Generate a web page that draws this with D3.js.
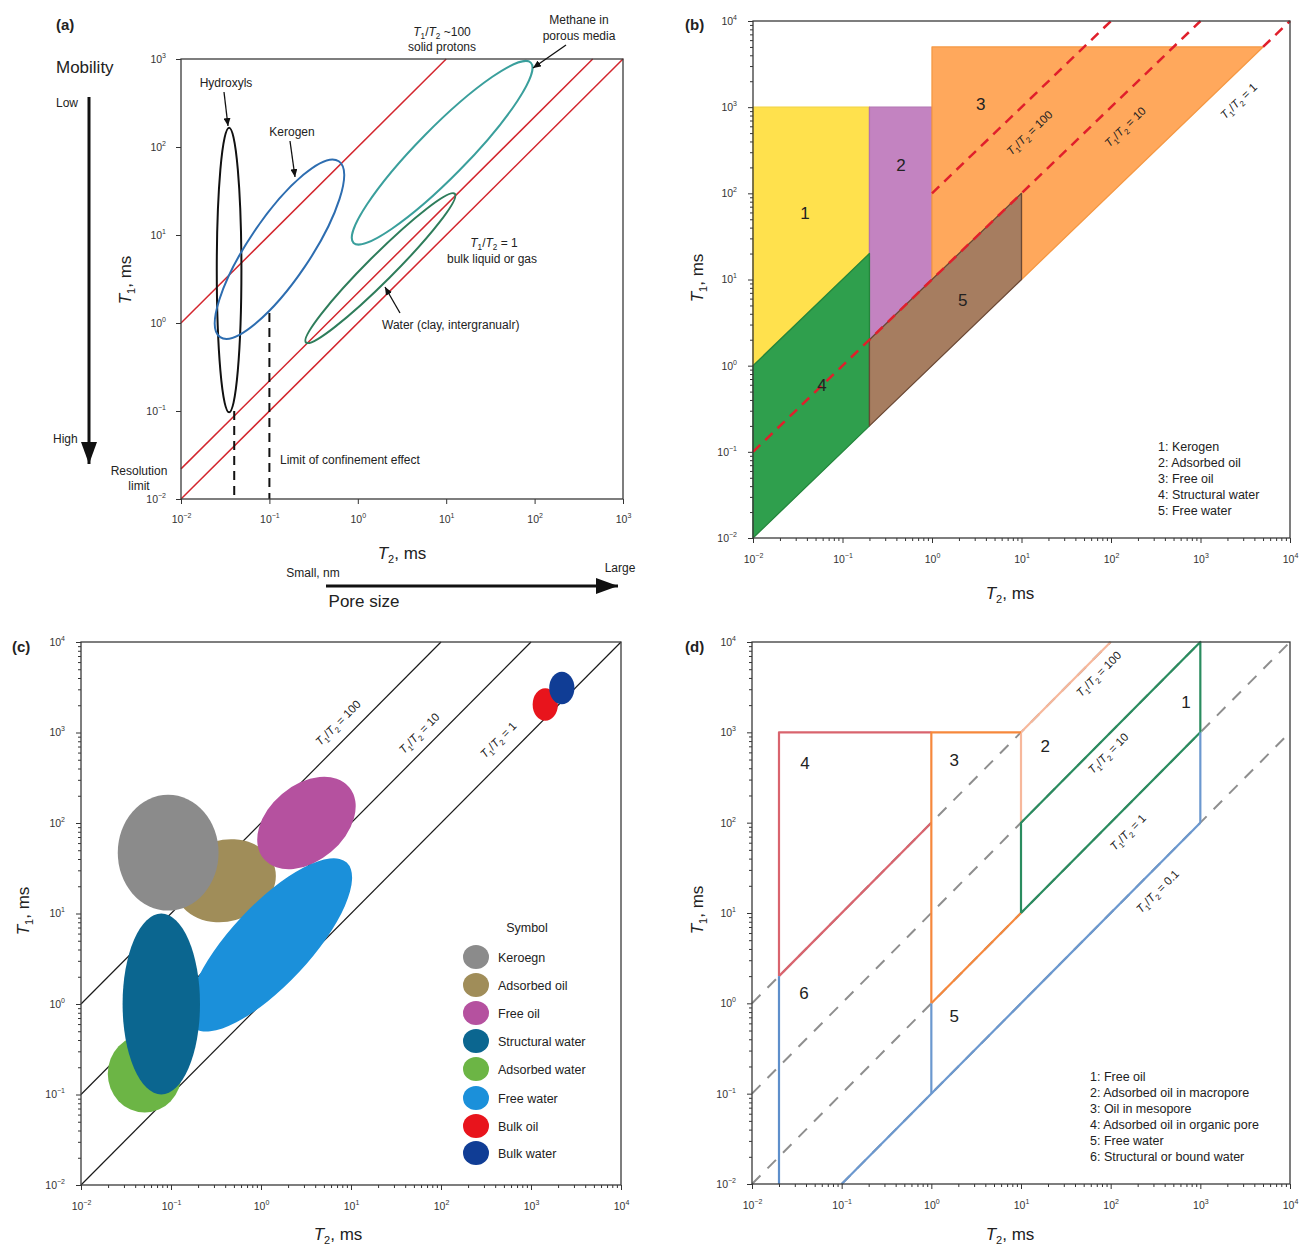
<!DOCTYPE html>
<html>
<head>
<meta charset="utf-8">
<script src="https://cdn.jsdelivr.net/npm/d3@7"></script>
<style>
  body { margin: 0; background: #fff; }
  svg text { font-family: "Liberation Sans", Arial, sans-serif; }
</style>
</head>
<body>
<svg id="fig" width="1304" height="1246"></svg>
<script>
// ---------- data ----------
// (a) mobility map
var aTicks = [1e-2, 1e-1, 1e0, 1e1, 1e2, 1e3]
var aRatios = [100, 2.2, 1]
var aShapes = [
  {name: 'Hydroxyls', t2: 0.035, t1: 4.0, a: 1.61, b: 0.14, angle: 90},
  {name: 'Kerogen', t2: 0.13, t1: 6.9, a: 1.2, b: 0.35, angle: 56},
  {name: 'Methane in porous media', t2: 9.0, t1: 86, a: 1.43, b: 0.28, angle: 45.5},
  {name: 'Water (clay, intergranualr)', t2: 1.8, t1: 4.2, a: 1.19, b: 0.15, angle: 45}
]
var aShapeColors = ['#111111', '#2d6db0', '#3a9f9c', '#2e7d5b']
var aLimits = [{t2: 0.04, from: 0.01, to: 0.1}, {t2: 0.1, from: 0.01, to: 1.3}]

// (b) fluid zones
var bTicks = [1e-2, 1e-1, 1e0, 1e1, 1e2, 1e3, 1e4]
var bNames = ['Kerogen', 'Adsorbed oil', 'Free oil', 'Structural water', 'Free water']
var bPolys = [
  [[0.01, 1000], [0.2, 1000], [0.2, 20], [0.01, 1]],
  [[0.2, 1000], [1, 1000], [1, 10], [0.2, 2]],
  [[1, 5000], [5000, 5000], [10, 10], [10, 100], [1, 10]],
  [[0.01, 1], [0.2, 20], [0.2, 0.2], [0.01, 0.01]],
  [[0.2, 2], [10, 100], [10, 10], [0.2, 0.2]]
]
var bLabelAt = [[0.038, 59], [0.45, 215], [3.5, 1100], [0.059, 0.6], [2.2, 5.8]]
var bDashed = [{ratio: 100, from: 1, to: 100}, {ratio: 10, from: 0.01, to: 1000}, {ratio: 1, from: 5000, to: 10000}]
var bRatioLabels = [{ratio: 100, t2: 8, off: 24}, {ratio: 10, t2: 94, off: 24}, {ratio: 1, t2: 1800, off: 22}]

// (c) symbols
var cTicks = bTicks
var cRatios = [100, 10, 1]
var cNames = ['Keroegn', 'Adsorbed oil', 'Free oil', 'Structural water', 'Adsorbed water', 'Free water', 'Bulk oil', 'Bulk water']
var cShapes = [
  {t2: 0.093, t1: 47, a: 0.56, b: 0.64, angle: 0},
  {t2: 0.4, t1: 23, a: 0.57, b: 0.45, angle: 15},
  {t2: 3.2, t1: 100, a: 0.62, b: 0.42, angle: 40},
  {t2: 0.078, t1: 1.0, a: 0.43, b: 1.0, angle: 0},
  {t2: 0.051, t1: 0.17, a: 0.41, b: 0.43, angle: 0},
  {t2: 1.26, t1: 4.5, a: 1.25, b: 0.44, angle: 47},
  {t2: 1440, t1: 2040, a: 0.14, b: 0.18, angle: 0},
  {t2: 2200, t1: 3100, a: 0.14, b: 0.18, angle: 0}
]
var cOrder = [1, 0, 2, 5, 4, 3, 6, 7]
var cRatioLabels = [{ratio: 100, t2: 9.6, off: -16}, {ratio: 10, t2: 75, off: -15}, {ratio: 1, t2: 600, off: -18}]

// (d) zone outlines
var dTicks = bTicks
var dRatios = [100, 10, 1, 0.1]
var dNames = ['Free oil', 'Adsorbed oil in macropore', 'Oil in mesopore', 'Adsorbed oil in organic pore', 'Free water', 'Structural or bound water']
var dEdges = [
  {region: 4, pts: [[0.02, 2], [0.02, 1000], [1, 1000]]},
  {region: 4, pts: [[0.02, 2], [1, 100]]},
  {region: 2, pts: [[10, 100], [10, 1000], [100, 10000]]},
  {region: 3, pts: [[1, 1], [1, 1000], [10, 1000]]},
  {region: 3, pts: [[1, 1], [10, 10]]},
  {region: 1, pts: [[10, 10], [10, 100], [1000, 10000], [1000, 1000], [10, 10]]},
  {region: 5, pts: [[1, 0.1], [1, 1]]},
  {region: 5, pts: [[1000, 100], [1000, 1000]]},
  {region: 5, pts: [[0.1, 0.01], [1000, 100]]},
  {region: 6, pts: [[0.02, 0.01], [0.02, 2]]}
]
var dLabelAt = [[690, 2180], [18.6, 700], [1.8, 490], [0.039, 460], [1.8, 0.72], [0.038, 1.3]]
var dRatioLabels = [{ratio: 100, t2: 57, off: 14}, {ratio: 10, t2: 74, off: 13}, {ratio: 1, t2: 110, off: 19}, {ratio: 0.1, t2: 240, off: 18}]

// ---------- styles ----------
var bFill = ['#ffe14d', '#c383c1', '#ffa85c', '#2f9f4d', '#a67d60']
var bEdge = ['#f3d43c', '#b272b2', '#f59843', '#23863c', '#6b4834']
var cColors = ['#8b8b8b', '#a08d59', '#b5519f', '#0b6690', '#6cb545', '#1b90da', '#e8141c', '#103d95']
var dColors = {1: '#2a8c5f', 2: '#f7b89c', 3: '#f6883c', 4: '#d9646e', 5: '#6b98cf', 6: '#5e8fcb'}

var svg = d3.select('#fig')
var defs = svg.append('defs')

function marker(id, w, h) {
  defs.append('marker').attr('id', id)
    .attr('viewBox', '0 0 10 10').attr('refX', 10).attr('refY', 5)
    .attr('markerUnits', 'userSpaceOnUse')
    .attr('markerWidth', w).attr('markerHeight', h)
    .attr('preserveAspectRatio', 'none')
    .attr('orient', 'auto')
    .append('path').attr('d', 'M0,0L10,5L0,10z').attr('fill', '#111')
}
marker('tip', 8, 7)
marker('big', 22, 16)

// ---------- helpers ----------
function scales(box, lo, hi) {
  let x = d3.scaleLog().domain([lo, hi]).range([box.x0, box.x1])
  let y = d3.scaleLog().domain([lo, hi]).range([box.y1, box.y0])
  return [x, y]
}

function expLabels(a) {
  a.selectAll('.tick text').each(function(d) {
    let e = Math.round(Math.log10(d))
    let t = d3.select(this).text(null)
    t.append('tspan').text('10')
    t.append('tspan').attr('font-size', 7).attr('dy', -5).text(e < 0 ? '\u2212' + (-e) : e)
  })
}

function axes(g, x, y, ticks, minor, padX, padY) {
  let minorVals = []
  if (minor) ticks.slice(0, -1).forEach(d => { for (let k = 2; k < 10; k++) minorVals.push(d * k) })

  let bx = g.append('g').attr('transform', 'translate(0,' + y.range()[0] + ')')
  let ly = g.append('g').attr('transform', 'translate(' + x.range()[0] + ',0)')
  if (minor) {
    bx.append('g').call(d3.axisBottom(x).tickValues(minorVals).tickSize(3).tickFormat(''))
    ly.append('g').call(d3.axisLeft(y).tickValues(minorVals).tickSize(3).tickFormat(''))
  }
  let mb = bx.append('g').call(d3.axisBottom(x).tickValues(ticks).tickSize(5).tickPadding(padX))
  let ml = ly.append('g').call(d3.axisLeft(y).tickValues(ticks).tickSize(5).tickPadding(padY))
  expLabels(mb)
  expLabels(ml)

  ;[bx, ly].forEach(a => {
    a.selectAll('.domain').remove()
    a.selectAll('g').attr('font-family', null).attr('font-size', 10.5).attr('color', '#333')
  })

  g.append('rect')
    .attr('x', x.range()[0]).attr('y', y.range()[1])
    .attr('width', x.range()[1] - x.range()[0])
    .attr('height', y.range()[0] - y.range()[1])
    .attr('fill', 'none').attr('stroke', '#3a3a3a').attr('stroke-width', 1.3)
}

function ratioSeg(x, y, r, from, to) {
  return d3.line()([[x(from), y(r * from)], [x(to), y(r * to)]])
}

function fullRange(x, r) {
  let [lo, hi] = x.domain()
  return [Math.max(lo, lo / r), Math.min(hi, hi / r)]
}

function addEllipse(g, x, y, e) {
  let cx = x(e.t2), cy = y(e.t1)
  let kx = x(10) - x(1), ky = y(1) - y(10)
  return g.append('ellipse')
    .attr('cx', cx).attr('cy', cy)
    .attr('rx', e.a * kx).attr('ry', e.b * ky)
    .attr('transform', 'rotate(' + (-e.angle) + ',' + cx + ',' + cy + ')')
}

// T1/T2 text with subscripts
function ratioText(t, rest, size) {
  let s = size * 0.68, sh = size * 0.28
  t.append('tspan').attr('font-style', 'italic').text('T')
  t.append('tspan').attr('font-size', s).attr('dy', sh).text('1')
  t.append('tspan').attr('dy', -sh).text('/')
  t.append('tspan').attr('font-style', 'italic').text('T')
  t.append('tspan').attr('font-size', s).attr('dy', sh).text('2')
  t.append('tspan').attr('dy', -sh).text(rest)
}

function ratioLabel(g, x, y, lab, size) {
  let kx = x(10) - x(1), ky = y(1) - y(10)
  let n = Math.hypot(kx, ky)
  let px = x(lab.t2) + lab.off * ky / n
  let py = y(lab.t2 * lab.ratio) + lab.off * kx / n
  let ang = -Math.atan2(ky, kx) * 180 / Math.PI
  let t = g.append('text')
    .attr('transform', 'translate(' + px + ',' + py + ') rotate(' + ang + ')')
    .attr('text-anchor', 'middle').attr('dy', '0.35em')
    .attr('font-size', size).attr('fill', '#222')
  ratioText(t, ' = ' + lab.ratio, size)
}

function tTitle(g, px, py, sub, rot, size) {
  let t = g.append('text')
    .attr('transform', 'translate(' + px + ',' + py + ') rotate(' + rot + ')')
    .attr('text-anchor', 'middle').attr('dy', '0.35em')
    .attr('font-size', size).attr('fill', '#222')
  t.append('tspan').attr('font-style', 'italic').text('T')
  t.append('tspan').attr('font-size', size * 0.65).attr('dy', size * 0.25).text(sub)
  t.append('tspan').attr('dy', -size * 0.25).text(', ms')
}

function txt(g, x, y, s, size, anchor) {
  return g.append('text').attr('x', x).attr('y', y)
    .attr('font-size', size || 12).attr('text-anchor', anchor || 'middle')
    .attr('fill', '#222').text(s)
}

function arrow(g, x1, y1, x2, y2, m, w) {
  g.append('line').attr('x1', x1).attr('y1', y1).attr('x2', x2).attr('y2', y2)
    .attr('stroke', '#111').attr('stroke-width', w || 1.3)
    .attr('marker-end', 'url(#' + (m || 'tip') + ')')
}

function panelTag(g, x, y, s) {
  txt(g, x, y, s, 15, 'start').attr('font-weight', 'bold')
}

// ---------- (a) ----------
var gA = svg.append('g')
var [ax, ay] = scales({x0: 181, x1: 623, y0: 59, y1: 499}, 1e-2, 1e3)

aRatios.forEach(r => {
  let [f, t] = fullRange(ax, r)
  gA.append('path').attr('d', ratioSeg(ax, ay, r, f, t))
    .attr('stroke', '#d3262e').attr('stroke-width', 1.5).attr('fill', 'none')
})

aShapes.forEach((e, i) => {
  addEllipse(gA, ax, ay, e).attr('fill', 'none')
    .attr('stroke', aShapeColors[i]).attr('stroke-width', 2)
})

aLimits.forEach(l => {
  gA.append('line')
    .attr('x1', ax(l.t2)).attr('x2', ax(l.t2))
    .attr('y1', ay(l.to)).attr('y2', ay(l.from))
    .attr('stroke', '#111').attr('stroke-width', 2).attr('stroke-dasharray', '9,6')
})

axes(gA, ax, ay, aTicks, false, 12, 10)
tTitle(gA, 125, 280, '1', -90, 17)
tTitle(gA, 402, 553, '2', 0, 17)
panelTag(gA, 56, 30, '(a)')

txt(gA, 56, 73, 'Mobility', 17, 'start')
txt(gA, 56, 107, 'Low', 12, 'start')
txt(gA, 53, 443, 'High', 12, 'start')
arrow(gA, 89, 97, 89, 464, 'big', 3)
txt(gA, 139, 475, 'Resolution', 12)
txt(gA, 139, 490, 'limit', 12)

txt(gA, 226, 87, 'Hydroxyls', 12)
arrow(gA, 224, 92, 228, 126)
txt(gA, 292, 136, 'Kerogen', 12)
arrow(gA, 290, 141, 295, 177)
var ta = gA.append('text').attr('x', 442).attr('y', 36).attr('font-size', 12)
  .attr('text-anchor', 'middle').attr('fill', '#222')
ratioText(ta, ' ~100', 12)
txt(gA, 442, 51, 'solid protons', 12)
txt(gA, 579, 24, 'Methane in', 12)
txt(gA, 579, 40, 'porous media', 12)
arrow(gA, 566, 45, 533, 68)
var tb = gA.append('text').attr('x', 494).attr('y', 247).attr('font-size', 12)
  .attr('text-anchor', 'middle').attr('fill', '#222')
ratioText(tb, ' = 1', 12)
txt(gA, 492, 263, 'bulk liquid or gas', 12)
txt(gA, 382, 329, 'Water (clay, intergranualr)', 12, 'start')
arrow(gA, 400, 313, 385, 287)
txt(gA, 280, 464, 'Limit of confinement effect', 12, 'start')

txt(gA, 313, 577, 'Small, nm', 12)
txt(gA, 620, 572, 'Large', 12)
arrow(gA, 326, 586, 618, 586, 'big', 3)
txt(gA, 364, 607, 'Pore size', 17)

// ---------- (b) ----------
var gB = svg.append('g')
var [bx, by] = scales({x0: 753, x1: 1290, y0: 21, y1: 538}, 1e-2, 1e4)
var area = d3.line().x(d => bx(d[0])).y(d => by(d[1]))

gB.selectAll('.zone').data(bPolys).enter()
  .append('path').attr('class', 'zone')
  .attr('d', d => area(d) + 'Z')
  .attr('fill', (d, i) => bFill[i])
  .attr('stroke', (d, i) => bEdge[i]).attr('stroke-width', 1.3)
  .attr('stroke-linejoin', 'round')

bDashed.forEach(l => {
  gB.append('path').attr('d', ratioSeg(bx, by, l.ratio, l.from, l.to))
    .attr('stroke', '#e01f2b').attr('stroke-width', 2.5).attr('fill', 'none')
    .attr('stroke-dasharray', '10,7')
})

bLabelAt.forEach((p, i) => {
  gB.append('text').attr('x', bx(p[0])).attr('y', by(p[1])).attr('dy', '0.35em')
    .attr('text-anchor', 'middle').attr('font-size', 17).attr('fill', '#222').text(i + 1)
})
bRatioLabels.forEach(l => ratioLabel(gB, bx, by, l, 11.5))

bNames.forEach((n, i) => txt(gB, 1158, 451 + i * 16, (i + 1) + ': ' + n, 12.5, 'start'))

axes(gB, bx, by, bTicks, true, 13, 11)
tTitle(gB, 697, 278, '1', -90, 17)
tTitle(gB, 1010, 593, '2', 0, 17)
panelTag(gB, 685, 30, '(b)')

// ---------- (c) ----------
var gC = svg.append('g')
var [cx, cy] = scales({x0: 81, x1: 621, y0: 642, y1: 1185}, 1e-2, 1e4)

cRatios.forEach(r => {
  let [f, t] = fullRange(cx, r)
  gC.append('path').attr('d', ratioSeg(cx, cy, r, f, t))
    .attr('stroke', '#1a1a1a').attr('stroke-width', 1.2).attr('fill', 'none')
})

cOrder.forEach(i => {
  addEllipse(gC, cx, cy, cShapes[i]).attr('fill', cColors[i])
})
cRatioLabels.forEach(l => ratioLabel(gC, cx, cy, l, 11.5))

txt(gC, 527, 932, 'Symbol', 12.5)
var cLegY = [957, 985, 1013, 1041, 1069, 1098, 1126, 1153]
cNames.forEach((n, i) => {
  gC.append('ellipse').attr('cx', 476).attr('cy', cLegY[i]).attr('rx', 13).attr('ry', 12)
    .attr('fill', cColors[i])
  txt(gC, 498, cLegY[i] + 4.5, n, 12.5, 'start')
})

axes(gC, cx, cy, cTicks, true, 13, 11)
tTitle(gC, 23, 911, '1', -90, 17)
tTitle(gC, 338, 1234, '2', 0, 17)
panelTag(gC, 12, 652, '(c)')

// ---------- (d) ----------
var gD = svg.append('g')
var [dx, dy] = scales({x0: 752, x1: 1290, y0: 642, y1: 1184}, 1e-2, 1e4)
var edge = d3.line().x(d => dx(d[0])).y(d => dy(d[1]))

dRatios.forEach(r => {
  let [f, t] = fullRange(dx, r)
  gD.append('path').attr('d', ratioSeg(dx, dy, r, f, t))
    .attr('stroke', '#8e8e8e').attr('stroke-width', 2).attr('fill', 'none')
    .attr('stroke-dasharray', '12,10')
})

gD.selectAll('.edge').data(dEdges).enter()
  .append('path').attr('class', 'edge')
  .attr('d', d => edge(d.pts))
  .attr('fill', 'none')
  .attr('stroke', d => dColors[d.region]).attr('stroke-width', 2.2)
  .attr('stroke-linejoin', 'round')

dLabelAt.forEach((p, i) => {
  gD.append('text').attr('x', dx(p[0])).attr('y', dy(p[1])).attr('dy', '0.35em')
    .attr('text-anchor', 'middle').attr('font-size', 17).attr('fill', '#222').text(i + 1)
})
dRatioLabels.forEach(l => ratioLabel(gD, dx, dy, l, 11.5))

dNames.forEach((n, i) => txt(gD, 1090, 1081 + i * 16, (i + 1) + ': ' + n, 12.5, 'start'))

axes(gD, dx, dy, dTicks, true, 13, 11)
tTitle(gD, 697, 910, '1', -90, 17)
tTitle(gD, 1010, 1234, '2', 0, 17)
panelTag(gD, 685, 652, '(d)')
</script>
</body>
</html>
